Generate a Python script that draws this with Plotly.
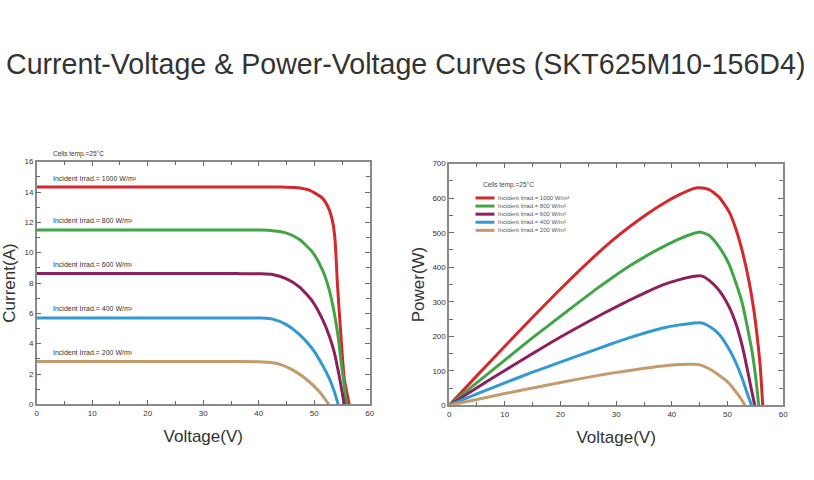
import plotly.graph_objects as go

# ---------------- data ----------------
irrad_labels = ["1000", "800", "600", "400", "200"]
colors = ["#d4282c", "#41a547", "#8c1f5e", "#329ad0", "#c59a6c"]

# I-V curves (Voltage V, Current A)
iv_v_1000 = [0, 20, 38, 44.0, 47.0, 49.1, 51.5, 52.7, 53.4, 53.75, 54.2, 54.8, 55.4, 56.3]
iv_i_1000 = [14.33, 14.33, 14.33, 14.33, 14.28, 14.12, 13.58, 12.82, 11.85, 10.77, 7.75, 4.51, 1.71, 0]
iv_v_800 = [0, 20, 36, 40.5, 42.5, 44.9, 47.3, 49.7, 51.5, 52.7, 53.6, 54.35, 54.9, 55.4, 55.8]
iv_i_800 = [11.5, 11.5, 11.5, 11.49, 11.45, 11.31, 10.88, 10.02, 8.83, 7.53, 6.02, 4.30, 2.57, 1.27, 0]
iv_v_600 = [0, 20, 36, 40.5, 42.5, 44.9, 47.3, 49.7, 51.5, 52.7, 53.6, 54.35, 54.9, 55.4]
iv_i_600 = [8.62, 8.62, 8.62, 8.61, 8.56, 8.29, 7.75, 6.78, 5.59, 4.51, 3.43, 2.14, 1.06, 0]
iv_v_400 = [0, 20, 36, 40.5, 42.5, 44.9, 47.3, 49.7, 51.5, 52.7, 53.6, 54.3]
iv_i_400 = [5.7, 5.7, 5.7, 5.69, 5.62, 5.27, 4.62, 3.65, 2.57, 1.71, 0.84, 0]
iv_v_200 = [0, 20, 35, 40.0, 42.0, 44.35, 46.7, 49.1, 50.9, 51.8, 52.6]
iv_i_200 = [2.82, 2.82, 2.82, 2.81, 2.77, 2.57, 2.14, 1.49, 0.84, 0.41, 0]

# P-V curves (Voltage V, Power W)
pv_v_1000 = [0, 5, 10, 15, 20, 26.53, 29.49, 32.46, 35.43, 38.40, 41.36, 43.74, 44.92, 46.70, 48.48, 50.26, 51.45, 52.64, 53.82, 54.71, 55.31, 55.90, 56.32]
pv_p_1000 = [0, 86, 171, 255, 337, 438, 480, 518, 553, 584, 610, 627, 630, 625, 603, 561, 513, 447, 362, 277, 201, 106, 0]
pv_v_800 = [0, 5, 10, 15, 20, 26.53, 29.49, 32.46, 35.43, 38.40, 41.36, 43.74, 45.04, 46.70, 48.48, 50.26, 51.45, 52.64, 53.53, 54.42, 55.01, 55.60]
pv_p_800 = [0, 66, 131, 196, 258, 338, 372, 404, 433, 459, 482, 497, 502, 492, 459, 409, 357, 296, 229, 154, 87, 0]
pv_v_600 = [0, 5, 10, 15, 20, 26.53, 29.49, 32.46, 35.43, 38.40, 41.36, 43.74, 45.22, 46.70, 48.48, 50.26, 51.45, 52.64, 53.53, 54.12, 54.89]
pv_p_600 = [0, 51, 101, 150, 198, 256, 281, 305, 328, 349, 364, 373, 375, 362, 333, 286, 239, 172, 106, 59, 0]
pv_v_400 = [0, 5, 10, 15, 20, 26.53, 29.49, 32.46, 35.43, 38.40, 41.36, 43.74, 45.22, 46.70, 48.48, 50.26, 51.45, 52.64, 53.53, 54.30]
pv_p_400 = [0, 33, 65, 96, 125, 163, 180, 196, 211, 224, 233, 238, 239, 229, 206, 163, 125, 78, 35, 0]
pv_v_200 = [0, 5, 10, 15, 20, 26.53, 29.49, 32.46, 35.43, 38.40, 41.36, 43.74, 44.92, 46.70, 48.48, 50.26, 51.45, 52.34, 53.11]
pv_p_200 = [0, 17, 34, 50, 66, 86, 94, 101, 108, 114, 118, 119, 118, 106, 87, 64, 40, 21, 0]

title_text = "Current-Voltage & Power-Voltage Curves (SKT625M10-156D4)"
temp_text = "Cells temp.=25°C"

iv_v = [iv_v_1000, iv_v_800, iv_v_600, iv_v_400, iv_v_200]
iv_i = [iv_i_1000, iv_i_800, iv_i_600, iv_i_400, iv_i_200]
pv_v = [pv_v_1000, pv_v_800, pv_v_600, pv_v_400, pv_v_200]
pv_p = [pv_p_1000, pv_p_800, pv_p_600, pv_p_400, pv_p_200]

FONT = "Liberation Sans, Arial, sans-serif"
fig = go.Figure()

for k in range(5):
    fig.add_trace(go.Scatter(x=iv_v[k], y=iv_i[k], mode="lines",
                             line=dict(color=colors[k], width=3, shape="spline", smoothing=0.6),
                             xaxis="x", yaxis="y", showlegend=False, hoverinfo="skip"))
for k in range(5):
    fig.add_trace(go.Scatter(x=pv_v[k], y=pv_p[k], mode="lines",
                             line=dict(color=colors[k], width=3, shape="spline", smoothing=0.6),
                             xaxis="x2", yaxis="y2", showlegend=False, hoverinfo="skip"))

axis_common = dict(
    showline=True, linecolor="#8a8a8a", linewidth=1.5, mirror="ticks",
    ticks="inside", ticklen=5, tickwidth=1, tickcolor="#6a6a6a",
    showgrid=False, zeroline=False,
    tickfont=dict(family=FONT, size=8, color="#333"),
)
minor_x = dict(dtick=5, ticks="inside", ticklen=4, tickcolor="#6a6a6a", showgrid=False)
title_font = dict(family=FONT, size=17, color="#333")

fig.update_layout(
    width=814, height=480,
    margin=dict(l=0, r=0, t=0, b=0),
    paper_bgcolor="white", plot_bgcolor="white",
    xaxis=dict(domain=[35/814, 371/814], range=[0, 60], dtick=10, minor=minor_x,
               anchor="y", title=dict(text="Voltage(V)", font=title_font, standoff=13),
               **axis_common),
    yaxis=dict(domain=[72/480, 319.3/480], range=[0, 16], dtick=2,
               minor=dict(dtick=1, ticks="inside", ticklen=4, tickcolor="#6a6a6a", showgrid=False),
               anchor="x", title=dict(text="Current(A)", font=title_font, standoff=4),
               **axis_common),
    xaxis2=dict(domain=[451/814, 788/814], range=[0, 60], dtick=10, minor=minor_x,
                anchor="y2", title=dict(text="Voltage(V)", font=title_font, standoff=13),
                **axis_common),
    yaxis2=dict(domain=[71/480, 317.3/480], range=[0, 700], dtick=100,
                minor=dict(dtick=50, ticks="inside", ticklen=4, tickcolor="#6a6a6a", showgrid=False),
                anchor="x2", title=dict(text="Power(W)", font=title_font, standoff=3),
                **axis_common),
)

ann = []
ann.append(dict(text=title_text, x=(8 + 805) / 2 / 814, y=(480 - 61) / 480, xref="paper", yref="paper",
                xanchor="center", yanchor="middle", showarrow=False,
                font=dict(family=FONT, size=28.6, color="#333")))
# left panel labels
ann.append(dict(text=temp_text, x=2.6, y=1.0, xref="x", yref="y domain", yshift=8,
                xanchor="left", yanchor="middle", showarrow=False,
                font=dict(family=FONT, size=6.5, color="#4a3020")))
for k in range(5):
    ann.append(dict(text="Incident Irrad.= " + irrad_labels[k] + " W/m²", x=2.6, y=iv_i[k][0],
                    xref="x", yref="y", yshift=9, xanchor="left", yanchor="middle", showarrow=False,
                    font=dict(family=FONT, size=7, color="#333")))
# right panel legend
ann.append(dict(text=temp_text, x=0.095, y=0.9135, xref="x2 domain", yref="y2 domain",
                xanchor="left", yanchor="middle", showarrow=False,
                font=dict(family=FONT, size=6.5, color="#444")))
shapes = []
for k in range(5):
    yy = 0.858 - k * 0.0335
    shapes.append(dict(type="line", xref="x2 domain", yref="y2 domain", x0=0.079, x1=0.1356,
                       y0=yy, y1=yy, line=dict(color=colors[k], width=3)))
    ann.append(dict(text="Incident Irrad.= " + irrad_labels[k] + " W/m²", x=0.14, y=yy,
                    xref="x2 domain", yref="y2 domain", xanchor="left", yanchor="middle", showarrow=False,
                    font=dict(family=FONT, size=6, color="#555")))

fig.update_layout(annotations=ann, shapes=shapes)
fig.write_html("out.html")
